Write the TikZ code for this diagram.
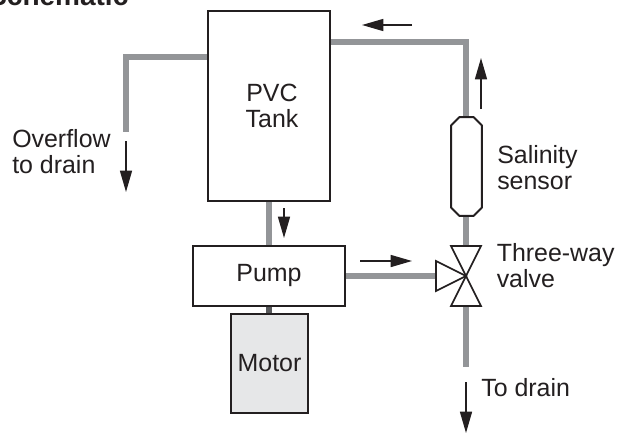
\documentclass[tikz,border=0pt]{standalone}
\usepackage{fontspec}
\usepackage{xcolor}
\usetikzlibrary{arrows.meta,backgrounds}
\setmainfont{Liberation Sans}
\definecolor{Ink}{HTML}{231F20}
\definecolor{Pipe}{HTML}{939598}
\definecolor{Shaft}{HTML}{58595B}
\definecolor{Casing}{HTML}{E6E7E8}
\tikzset{
  unit/.style={
    draw=Ink,line width=1.5pt,fill=white,inner sep=0pt,align=center,
    font=\fontsize{18.7}{19.7}\selectfont,text=Ink
  },
  label/.style={
    anchor=west,inner sep=0pt,align=left,
    font=\fontsize{18.7}{19.5}\selectfont,text=Ink
  },
  pipe/.style={draw=Pipe,line width=4.5pt},
  flowarrow/.style={-{Triangle[length=16pt,width=9pt]},line width=1.1pt,draw=Ink},
  valvepart/.style={draw=Ink,line width=1.3pt,fill=white,line join=miter}
}
\begin{document}
\begin{tikzpicture}[x=0.75pt,y=-0.75pt]
  \useasboundingbox (0,0) rectangle (618,433);
  \node[inner sep=0pt,anchor=base west,font=\fontsize{21}{24}\bfseries\selectfont,text=Ink] (title) at (-12,5) {Schematic};
  % units
  \coordinate (valve) at (466,276);
  \coordinate (valvenorth) at (466,246);
  \coordinate (valvesouth) at (466,306);
  \coordinate (valvewest) at (436,276);
  \coordinate (overflowbend) at (126,57);
  \coordinate (overflowend) at (126,132);
  \coordinate (returnbend) at (466,42);
  \coordinate (drainend) at (466,367);
  \node[unit,minimum width=91.5pt,minimum height=142.5pt] (tank) at (269,106)
    {\hspace*{4.5pt}PVC\\\hspace*{4.5pt}Tank};
  \node[unit,minimum width=114pt,minimum height=45pt] (pump) at (269,276) {Pump};
  \node[unit,fill=Casing,minimum width=57.5pt,minimum height=74pt] (motor) at (269.5,363.5) {Motor};
  \node[inner sep=0pt,minimum width=22.5pt,minimum height=73.5pt] (sensor) at (466.5,166.5) {};
  \draw[valvepart,line width=1.5pt,line join=round]
    ([xshift=6pt]sensor.north west) -- ([xshift=-6pt]sensor.north east)
    -- ([yshift=-6pt]sensor.north east) -- ([yshift=6pt]sensor.south east)
    -- ([xshift=-6pt]sensor.south east) -- ([xshift=6pt]sensor.south west)
    -- ([yshift=6pt]sensor.south west) -- ([yshift=-6pt]sensor.north west) -- cycle;
  % pipes go under the units
  \begin{scope}[on background layer]
    \draw[pipe] (tank.west |- overflowbend) -- (overflowbend) -- (overflowend);
    \draw[pipe] (tank.east |- returnbend) -- (returnbend) -- (valvenorth);
    \draw[pipe] (valvesouth) -- (drainend);
    \draw[pipe] (tank.south) -- (pump.north);
    \draw[pipe] (pump.east) -- (valvewest);
    \draw[draw=Shaft,line width=4.5pt] (pump.south) -- (motor.north -| pump.south);
  \end{scope}
  \draw[valvepart] (valve) -- (451,246) -- (481,246) -- cycle;
  \draw[valvepart] (valve) -- (451,306) -- (481,306) -- cycle;
  \draw[valvepart] (valve) -- (436,261) -- (436,291) -- cycle;
  % flow direction
  \coordinate (arrowoverflow) at (126,141);
  \coordinate (arrowtank) at (284,208);
  \coordinate (arrowpump) at (360,261);
  \coordinate (arrowreturn) at (412,25);
  \coordinate (arrowsensor) at (481,109);
  \coordinate (arrowdrain) at (466,382);
  \draw[flowarrow] (arrowoverflow) -- ++(0,51);
  \draw[flowarrow] (arrowtank) -- ++(0,30);
  \draw[flowarrow] (arrowpump) -- ++(52,0);
  \draw[flowarrow] (arrowreturn) -- ++(-50,0);
  \draw[flowarrow] (arrowsensor) -- ++(0,-51);
  \draw[flowarrow] (arrowdrain) -- ++(0,51);
  % labels
  \node[label] (overflow) at (12,152) {Overflow\\to drain};
  \node[label] (salinity) at (497,168) {Salinity\\sensor};
  \node[label] (threeway) at (496.5,266) {Three-way\\valve};
  \node[label] (todrain) at (481,388) {To drain};
\end{tikzpicture}
\end{document}
